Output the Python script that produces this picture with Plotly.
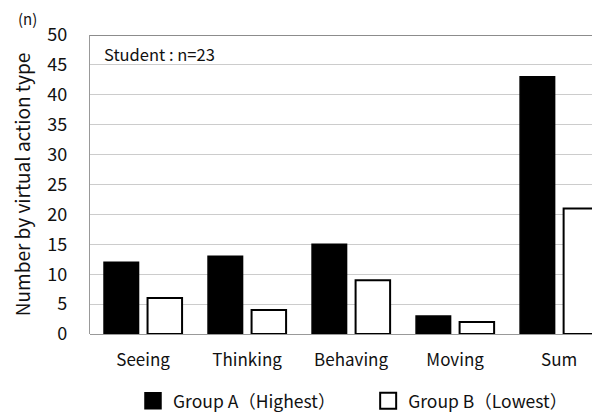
import plotly.graph_objects as go

categories = ["Seeing", "Thinking", "Behaving", "Moving", "Sum"]
group_a = [12, 13, 15, 3, 43]
group_b = [6, 4, 9, 2, 21]
y_ticks = [0, 5, 10, 15, 20, 25, 30, 35, 40, 45, 50]
series_names = ["Group A（Highest）", "Group B（Lowest）"]

FONT = "Noto Sans CJK JP"

fig = go.Figure()
fig.add_trace(go.Bar(x=categories, y=group_a, name=series_names[0], showlegend=False,
                     marker=dict(color="black", line=dict(color="black", width=1.5))))
fig.add_trace(go.Bar(x=categories, y=group_b, name=series_names[1], showlegend=False,
                     marker=dict(color="white", line=dict(color="black", width=2))))
# legend proxies
fig.add_trace(go.Scatter(x=[None], y=[None], mode="markers", name=series_names[0],
                         legend="legend",
                         marker=dict(symbol="square", size=16, color="black",
                                     line=dict(color="black", width=1.5))))
fig.add_trace(go.Scatter(x=[None], y=[None], mode="markers", name=series_names[1],
                         legend="legend2",
                         marker=dict(symbol="square", size=16, color="white",
                                     line=dict(color="black", width=2))))

fig.update_layout(
    width=600, height=414,
    margin=dict(l=82, r=0, t=27, b=88, autoexpand=False),
    paper_bgcolor="white", plot_bgcolor="white",
    font=dict(family=FONT, color="#111111", size=17),
    barmode="group", bargap=0.163, bargroupgap=0.207,
    showlegend=True,
    legend=dict(orientation="h", x=0.083, xanchor="left", y=-0.224, yanchor="middle",
                font=dict(size=17.5, family=FONT), bgcolor="rgba(0,0,0,0)"),
    legend2=dict(orientation="h", x=0.537, xanchor="left", y=-0.224, yanchor="middle",
                 font=dict(size=17.5, family=FONT), bgcolor="rgba(0,0,0,0)"),
)
fig.update_xaxes(range=[-0.51, 4.47], showgrid=False, showline=False, zeroline=False,
                 tickfont=dict(size=17, family=FONT), ticks="", ticklabelstandoff=14,
                 automargin=False)
fig.update_yaxes(range=[0, 50], tickvals=y_ticks, showgrid=True, gridcolor="#cccccc",
                 gridwidth=1.2, zeroline=True, zerolinecolor="#999999", zerolinewidth=1.2,
                 showline=True, linecolor="#999999", linewidth=1.2, automargin=False,
                 tickfont=dict(size=18, family=FONT), ticklabelstandoff=18,
                 title=dict(text="Number by virtual action type", font=dict(size=19, family=FONT),
                            standoff=20))
# top border
fig.add_shape(type="line", xref="paper", yref="y", x0=0, x1=1, y0=50, y1=50,
              line=dict(color="#666666", width=1.5))
fig.add_annotation(text="(n)", xref="paper", yref="paper", x=-0.12, y=1.055,
                   xanchor="center", yanchor="middle", showarrow=False,
                   font=dict(size=15, family=FONT))
fig.add_annotation(text="Student : n=23", xref="paper", yref="paper", x=0.024, y=0.935,
                   xanchor="left", yanchor="middle", showarrow=False,
                   font=dict(size=16.5, family=FONT))

fig.write_html("out.html")
